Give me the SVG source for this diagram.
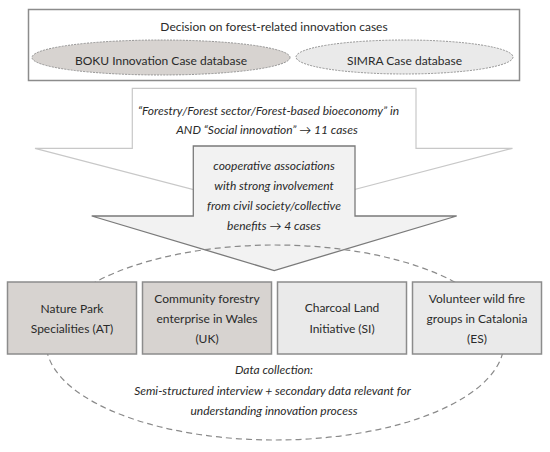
<svg xmlns="http://www.w3.org/2000/svg" width="550" height="452" viewBox="0 0 550 452">
<style>
text{font-family:Lato,"Liberation Sans",sans-serif;font-size:12px;fill:#2a2a2a;text-anchor:middle}
.it{font-style:italic}
.box{stroke:#8c8c8c;stroke-width:1.5}
.dark{fill:#d7d3d0}
.light{fill:#eaeaea}
.db{stroke:#8a8a8a;stroke-width:0.9;stroke-dasharray:2 1.2}
</style>
<rect width="550" height="452" fill="#ffffff"/>
<g id="decision">
<rect x="28.5" y="9.5" width="491" height="71" fill="#ffffff" class="box"/>
<text x="274" y="31">Decision on forest-related innovation cases</text>
</g>
<g id="boku">
<ellipse cx="161" cy="57.5" rx="129" ry="17.5" class="db dark"/>
<text x="161" y="65">BOKU Innovation Case database</text>
</g>
<g id="simra">
<ellipse cx="404.5" cy="57" rx="108.5" ry="17" class="db light"/>
<text x="404.5" y="65">SIMRA Case database</text>
</g>
<g id="filter1">
<polygon points="132.3,88.3 416,88.3 416,148.3 512.5,148.3 274.2,210.5 35,148.3 132.3,148.3" fill="#ffffff" stroke="#c8c8c8" stroke-width="1.2"/>
<text class="it" x="268.5" y="114.5">“Forestry/Forest sector/Forest-based bioeconomy” in</text>
<text class="it" x="267" y="133.5">AND “Social innovation” → 11 cases</text>
</g>
<g id="filter2">
<polygon points="193.3,146 355,146 355,216 456.7,216 274.2,270.5 91.7,216 193.3,216" fill="#f2f2f2" stroke="#7a7a7a" stroke-width="1.3"/>
<text class="it" x="274" y="169.5">cooperative associations</text>
<text class="it" x="274" y="189.5">with strong involvement</text>
<text class="it" x="274" y="209.5">from civil society/collective</text>
<text class="it" x="274" y="229.5">benefits → 4 cases</text>
</g>
<g id="connectors">
<ellipse cx="275" cy="342.5" rx="229" ry="97.5" fill="none" stroke="#8a8a8a" stroke-width="1.2" stroke-dasharray="6 4"/>
</g>
<g id="case-at">
<rect x="7.5" y="282" width="129" height="72" class="box dark"/>
<text x="72" y="312.7">Nature Park</text>
<text x="72" y="333.3">Specialities (AT)</text>
</g>
<g id="case-uk">
<rect x="142.5" y="282" width="129" height="72" class="box dark"/>
<text x="207" y="302.7">Community forestry</text>
<text x="207" y="323.3">enterprise in Wales</text>
<text x="207" y="343.3">(UK)</text>
</g>
<g id="case-si">
<rect x="277.5" y="282" width="129" height="72" class="box light"/>
<text x="342" y="311.7">Charcoal Land</text>
<text x="342" y="332.7">Initiative (SI)</text>
</g>
<g id="case-es">
<rect x="412.5" y="282" width="129" height="72" class="box light"/>
<text x="477" y="302.7">Volunteer wild fire</text>
<text x="477" y="323">groups in Catalonia</text>
<text x="477" y="343">(ES)</text>
</g>
<g id="data-collection">
<text class="it" x="274" y="374">Data collection:</text>
<text class="it" x="272.5" y="395">Semi-structured interview + secondary data relevant for</text>
<text class="it" x="274" y="415">understanding innovation process</text>
</g>
</svg>
